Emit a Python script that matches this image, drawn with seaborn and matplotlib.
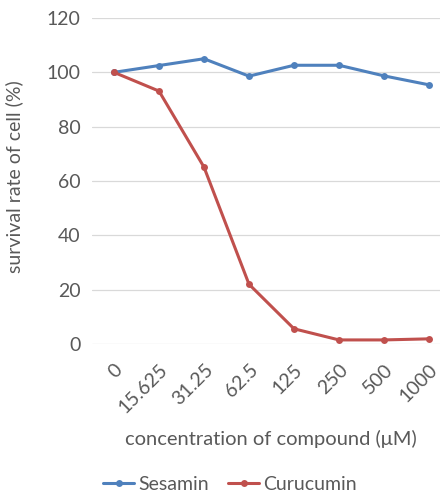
import pandas as pd
import matplotlib.pyplot as plt
import seaborn as sns

concentrations = ['0', '15.625', '31.25', '62.5', '125', '250', '500', '1000']
sesamin = [100, 102.5, 105, 98.6, 102.6, 102.6, 98.7, 95.4]
curucumin = [100, 93.1, 65.1, 22.0, 5.6, 1.5, 1.5, 1.9]

df = pd.DataFrame({
    'conc': concentrations * 2,
    'pos': list(range(len(concentrations))) * 2,
    'rate': sesamin + curucumin,
    'compound': ['Sesamin'] * len(sesamin) + ['Curucumin'] * len(curucumin),
})

sns.set_style('white')
plt.rcParams['font.family'] = ['Lato', 'DejaVu Sans']
text_col = '#595959'
fs = 14

fig = plt.figure(figsize=(4.4, 4.93), dpi=100)
ax = fig.add_axes([91.5 / 440, 149 / 493, 360 / 440, 326 / 493])

sns.lineplot(data=df, x='pos', y='rate', hue='compound', marker='o',
             palette={'Sesamin': '#4F81BD', 'Curucumin': '#C0504D'},
             linewidth=2.2, markersize=5, markeredgewidth=0, ax=ax, legend=True)

ax.set_xlim(-0.5, 7.5)
ax.set_ylim(0, 120)
ax.set_yticks(range(0, 121, 20))
ax.set_xticks(range(len(concentrations)))
ax.set_xticklabels(concentrations, rotation=45, ha='right', rotation_mode='anchor')
ax.grid(axis='y', color='#D9D9D9', linewidth=0.9)
ax.set_axisbelow(True)
sns.despine(ax=ax, left=True, bottom=True)
ax.tick_params(axis='both', length=0, labelsize=fs, colors=text_col, pad=8)
ax.tick_params(axis='x', pad=12)

# axis titles placed in axes fractions (axes is 360 x 326 px)
ax.set_ylabel('survival rate of cell (%)', fontsize=fs, color=text_col)
ax.yaxis.set_label_coords(-(91.5 - 23) / 360, (344 - 177) / 326)
ax.set_xlabel('concentration of compound (μM)', fontsize=14.5, color=text_col)
ax.xaxis.set_label_coords((271 - 91.5) / 360, -(430 - 344) / 326)

leg = ax.legend(loc='center', bbox_to_anchor=((230 - 91.5) / 360, -(484 - 344) / 326), ncol=2,
                frameon=False, fontsize=fs, handlelength=1.6, columnspacing=1.0,
                handletextpad=0.2)
for t in leg.get_texts():
    t.set_color(text_col)

fig.savefig('out.png', dpi=100)
